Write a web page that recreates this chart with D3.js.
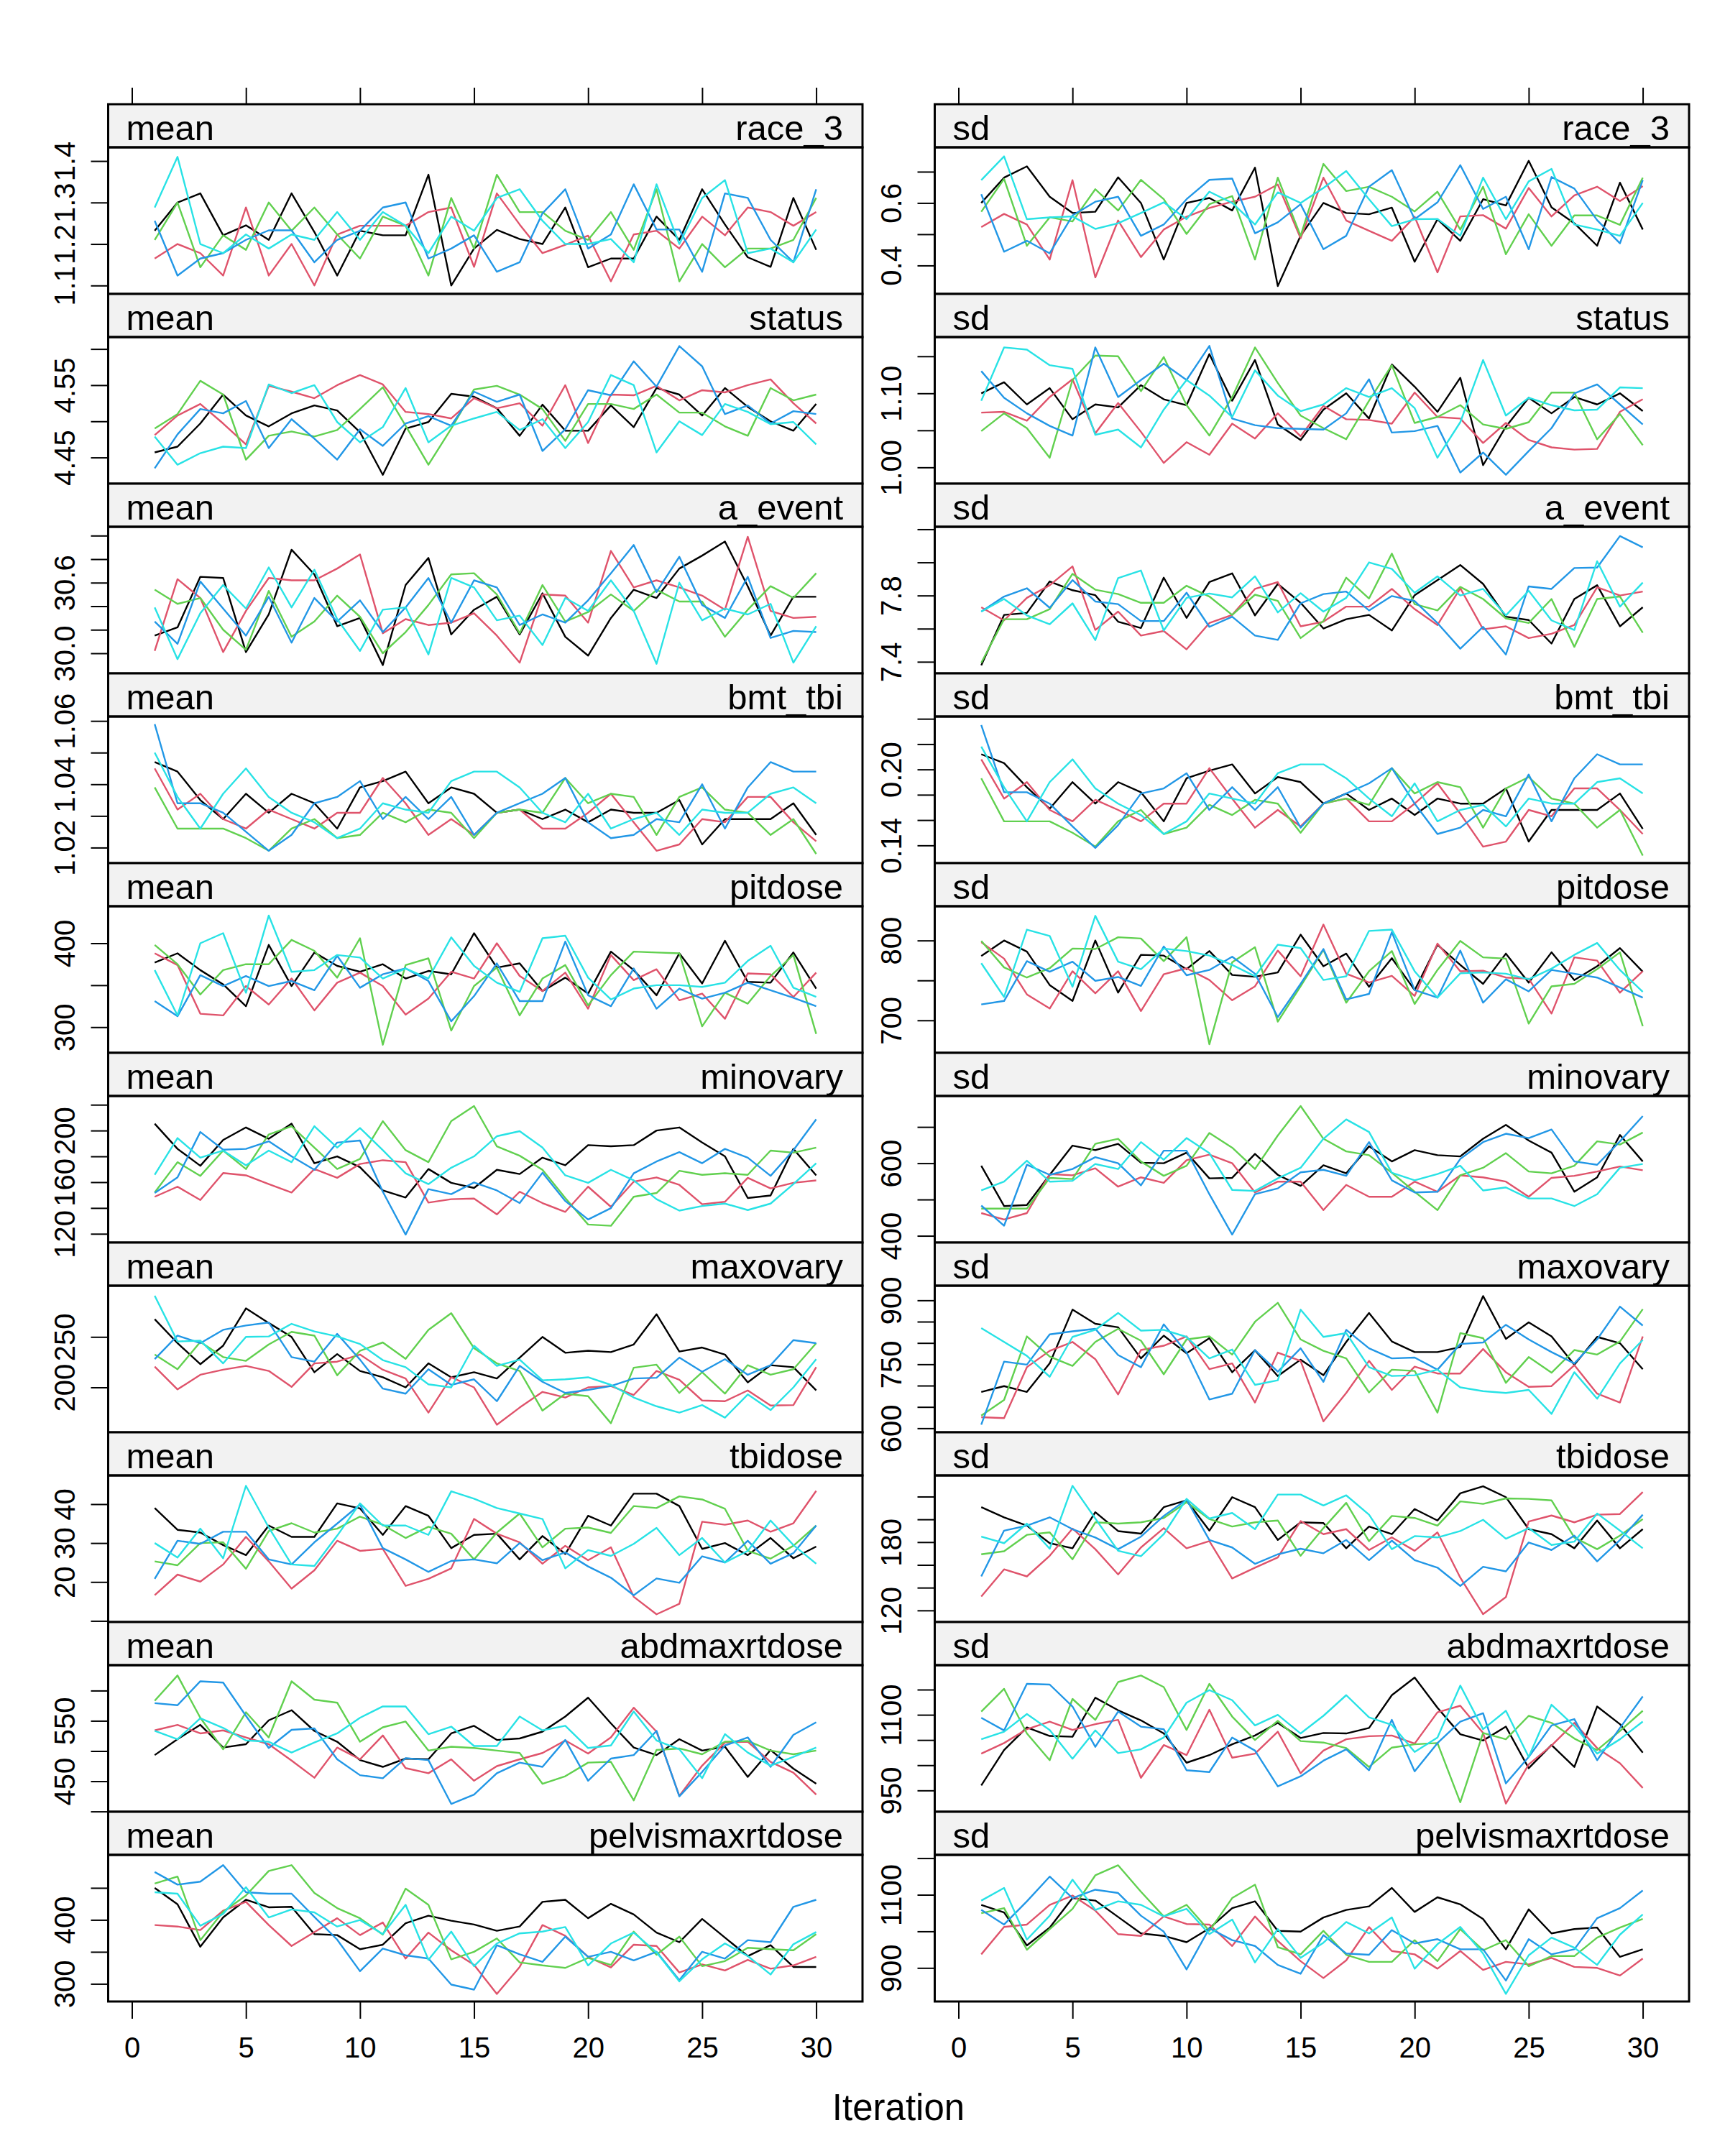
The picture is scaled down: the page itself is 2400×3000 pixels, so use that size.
<!DOCTYPE html>
<html><head><meta charset="utf-8">
<script src="https://cdn.jsdelivr.net/npm/d3@7"></script>
<style>body{margin:0;background:#fff}svg{display:block}text{font-family:"Liberation Sans",Arial,sans-serif}</style>
</head><body>
<script>
// iterations and chain colours
const iterations = d3.range(1, 31);
const chainColors = ["#000000", "#DF536B", "#61D04F", "#2297E6", "#28E2E5"];
const xTickValues = [0, 5, 10, 15, 20, 25, 30];
const variables = ["race_3","status","a_event","bmt_tbi","pitdose","minovary","maxovary","tbidose","abdmaxrtdose","pelvismaxrtdose"];

// ---- series values (5 chains x 30 iterations each) ----
const mean_race_3 = [
[1.232,1.300,1.322,1.221,1.245,1.210,1.322,1.229,1.124,1.232,1.221,1.221,1.367,1.100,1.189,1.234,1.212,1.200,1.288,1.144,1.165,1.165,1.266,1.210,1.332,1.247,1.168,1.145,1.311,1.186],
[1.165,1.200,1.178,1.124,1.288,1.124,1.200,1.100,1.223,1.244,1.244,1.244,1.277,1.288,1.145,1.322,1.247,1.178,1.198,1.220,1.110,1.223,1.232,1.189,1.266,1.221,1.288,1.277,1.244,1.277],
[1.210,1.300,1.144,1.221,1.186,1.300,1.232,1.288,1.223,1.165,1.266,1.244,1.124,1.311,1.189,1.367,1.277,1.277,1.232,1.210,1.277,1.186,1.332,1.110,1.200,1.144,1.189,1.189,1.210,1.311],
[1.256,1.124,1.165,1.178,1.210,1.233,1.233,1.156,1.210,1.232,1.288,1.300,1.165,1.189,1.221,1.133,1.156,1.274,1.332,1.189,1.223,1.344,1.235,1.235,1.133,1.322,1.311,1.210,1.156,1.332],
[1.288,1.410,1.200,1.178,1.223,1.189,1.223,1.210,1.277,1.210,1.277,1.244,1.178,1.266,1.232,1.311,1.332,1.256,1.200,1.200,1.212,1.156,1.344,1.200,1.311,1.354,1.178,1.189,1.156,1.235]];
const sd_race_3 = [
[0.600,0.681,0.717,0.620,0.568,0.572,0.682,0.600,0.419,0.600,0.616,0.576,0.713,0.334,0.495,0.600,0.568,0.564,0.585,0.412,0.548,0.479,0.612,0.592,0.735,0.586,0.535,0.463,0.665,0.515],
[0.523,0.565,0.531,0.419,0.673,0.362,0.544,0.427,0.515,0.556,0.584,0.604,0.620,0.659,0.487,0.681,0.544,0.511,0.479,0.556,0.378,0.557,0.561,0.518,0.648,0.557,0.624,0.652,0.606,0.654],
[0.572,0.677,0.463,0.554,0.541,0.644,0.576,0.674,0.612,0.501,0.596,0.622,0.419,0.681,0.495,0.725,0.638,0.652,0.620,0.573,0.636,0.515,0.652,0.436,0.564,0.463,0.560,0.560,0.530,0.681],
[0.628,0.444,0.479,0.439,0.560,0.604,0.620,0.495,0.531,0.612,0.674,0.678,0.503,0.538,0.596,0.452,0.495,0.652,0.705,0.548,0.602,0.721,0.581,0.620,0.452,0.683,0.646,0.545,0.471,0.673],
[0.673,0.749,0.548,0.554,0.557,0.517,0.535,0.568,0.602,0.548,0.636,0.600,0.531,0.634,0.600,0.648,0.702,0.612,0.526,0.548,0.549,0.495,0.681,0.548,0.669,0.709,0.531,0.515,0.495,0.600]];
const mean_status = [
[4.457,4.465,4.497,4.537,4.508,4.493,4.511,4.522,4.515,4.485,4.426,4.490,4.499,4.538,4.534,4.518,4.480,4.523,4.487,4.487,4.522,4.492,4.546,4.537,4.508,4.546,4.520,4.500,4.487,4.524],
[4.481,4.508,4.524,4.497,4.468,4.549,4.541,4.532,4.550,4.564,4.551,4.513,4.510,4.504,4.532,4.518,4.525,4.494,4.550,4.470,4.537,4.536,4.549,4.529,4.543,4.540,4.550,4.558,4.525,4.497],
[4.490,4.510,4.556,4.537,4.447,4.480,4.486,4.479,4.488,4.517,4.547,4.494,4.440,4.490,4.544,4.549,4.537,4.517,4.473,4.524,4.524,4.517,4.537,4.512,4.512,4.493,4.480,4.546,4.529,4.537],
[4.435,4.482,4.517,4.511,4.528,4.463,4.503,4.476,4.447,4.489,4.466,4.497,4.507,4.494,4.541,4.527,4.537,4.459,4.489,4.543,4.536,4.583,4.548,4.604,4.576,4.510,4.522,4.497,4.514,4.510],
[4.479,4.440,4.456,4.465,4.463,4.551,4.539,4.550,4.499,4.471,4.492,4.546,4.471,4.494,4.504,4.513,4.488,4.503,4.463,4.499,4.564,4.550,4.457,4.500,4.481,4.524,4.513,4.496,4.499,4.468]];
const sd_status = [
[1.100,1.115,1.085,1.107,1.065,1.085,1.081,1.111,1.092,1.084,1.153,1.090,1.145,1.058,1.037,1.078,1.100,1.066,1.139,1.109,1.075,1.121,1.003,1.055,1.094,1.073,1.095,1.085,1.100,1.076],
[1.074,1.075,1.063,1.095,1.119,1.046,1.087,1.048,1.006,1.034,1.017,1.059,1.039,1.073,1.042,1.083,1.065,1.064,1.059,1.101,1.068,1.066,1.033,1.060,1.037,1.027,1.024,1.025,1.075,1.092],
[1.049,1.073,1.053,1.013,1.118,1.151,1.150,1.103,1.149,1.084,1.043,1.095,1.162,1.114,1.070,1.053,1.038,1.090,1.138,1.060,1.068,1.084,1.058,1.052,1.061,1.101,1.101,1.038,1.072,1.030],
[1.130,1.094,1.073,1.056,1.043,1.162,1.095,1.118,1.140,1.118,1.164,1.066,1.057,1.053,1.052,1.051,1.073,1.119,1.047,1.049,1.056,0.993,1.020,0.990,1.022,1.053,1.100,1.112,1.085,1.058],
[1.090,1.162,1.159,1.138,1.133,1.044,1.051,1.027,1.078,1.118,1.097,1.068,1.131,1.097,1.076,1.085,1.107,1.095,1.107,1.080,1.013,1.061,1.145,1.070,1.094,1.084,1.077,1.078,1.108,1.107]];
const mean_a_event = [
[30.15,30.22,30.65,30.64,30.01,30.33,30.88,30.67,30.23,30.30,29.90,30.58,30.81,30.16,30.37,30.48,30.16,30.51,30.14,29.98,30.30,30.54,30.47,30.72,30.83,30.95,30.57,30.15,30.48,30.48],
[30.02,30.63,30.47,30.01,30.36,30.64,30.62,30.62,30.72,30.84,30.17,30.29,30.24,30.26,30.34,30.15,29.92,30.50,30.49,30.26,30.87,30.56,30.62,30.56,30.49,30.37,30.99,30.36,30.30,30.31],
[30.54,30.42,30.47,30.20,30.03,30.53,30.14,30.27,30.49,30.31,30.00,30.18,30.41,30.67,30.68,30.50,30.17,30.58,30.27,30.35,30.50,30.36,30.54,30.44,30.44,30.14,30.37,30.57,30.47,30.68],
[30.27,30.08,30.61,30.38,30.15,30.48,30.09,30.47,30.27,30.45,30.18,30.39,30.64,30.26,30.62,30.56,30.24,30.33,30.26,30.45,30.68,30.92,30.52,30.82,30.41,30.30,30.65,30.13,30.19,30.18],
[30.39,29.95,30.34,30.58,30.38,30.73,30.39,30.71,30.29,30.02,30.37,30.39,29.99,30.64,30.56,30.28,30.32,30.07,30.47,30.36,30.62,30.36,29.91,30.60,30.28,30.38,30.33,30.42,29.92,30.23]];
const sd_a_event = [
[7.379,7.683,7.695,7.885,7.832,7.802,7.642,7.604,7.908,7.665,7.881,7.934,7.680,7.870,7.756,7.601,7.657,7.683,7.589,7.802,7.893,7.984,7.870,7.672,7.652,7.510,7.779,7.862,7.614,7.729],
[7.729,7.650,7.786,7.862,7.976,7.592,7.703,7.558,7.586,7.475,7.634,7.683,7.840,7.881,7.614,7.642,7.733,7.733,7.840,7.718,7.622,7.844,7.596,7.614,7.543,7.569,7.622,7.850,7.800,7.824],
[7.394,7.657,7.657,7.718,7.931,7.835,7.809,7.756,7.756,7.859,7.794,7.683,7.805,7.768,7.543,7.646,7.908,7.782,8.053,7.748,7.710,7.852,7.779,7.662,7.634,7.779,7.490,7.779,7.794,7.576],
[7.703,7.794,7.844,7.726,7.893,7.764,7.748,7.646,7.646,7.817,7.611,7.672,7.558,7.532,7.753,7.809,7.824,7.710,7.797,7.767,7.634,7.479,7.611,7.444,7.855,7.840,7.966,7.969,8.159,8.091],
[7.703,7.779,7.680,7.627,7.753,7.531,7.905,7.951,7.589,7.786,7.812,7.789,7.916,7.698,7.814,7.703,7.786,8.000,7.961,7.817,7.916,7.800,7.840,7.680,7.829,7.650,7.592,8.007,7.733,7.878]];
const mean_bmt_tbi = [
[1.047,1.044,1.035,1.029,1.037,1.031,1.037,1.034,1.026,1.039,1.041,1.044,1.034,1.039,1.037,1.031,1.032,1.029,1.032,1.028,1.032,1.031,1.031,1.035,1.021,1.029,1.029,1.029,1.034,1.024],
[1.045,1.032,1.037,1.029,1.026,1.032,1.029,1.026,1.031,1.031,1.042,1.034,1.024,1.029,1.024,1.031,1.032,1.026,1.026,1.031,1.037,1.028,1.019,1.021,1.029,1.028,1.036,1.036,1.028,1.022],
[1.039,1.026,1.026,1.026,1.023,1.019,1.026,1.029,1.023,1.024,1.031,1.028,1.032,1.031,1.023,1.031,1.032,1.031,1.042,1.034,1.037,1.036,1.024,1.036,1.039,1.032,1.031,1.024,1.029,1.018],
[1.059,1.034,1.034,1.031,1.025,1.019,1.024,1.034,1.036,1.041,1.029,1.036,1.029,1.036,1.024,1.031,1.034,1.037,1.042,1.028,1.023,1.024,1.029,1.028,1.040,1.026,1.039,1.047,1.044,1.044],
[1.050,1.036,1.026,1.037,1.045,1.036,1.031,1.028,1.023,1.026,1.034,1.032,1.031,1.041,1.044,1.044,1.039,1.031,1.028,1.037,1.026,1.029,1.031,1.024,1.032,1.031,1.031,1.037,1.039,1.034]];
const sd_bmt_tbi = [
[0.212,0.205,0.186,0.169,0.190,0.173,0.190,0.182,0.159,0.193,0.199,0.204,0.181,0.194,0.190,0.173,0.181,0.168,0.177,0.164,0.177,0.173,0.173,0.185,0.143,0.168,0.168,0.168,0.181,0.153],
[0.208,0.177,0.190,0.168,0.159,0.176,0.168,0.159,0.173,0.173,0.201,0.177,0.154,0.168,0.155,0.173,0.177,0.159,0.159,0.173,0.189,0.165,0.139,0.143,0.168,0.163,0.185,0.185,0.168,0.149],
[0.193,0.159,0.159,0.159,0.150,0.139,0.159,0.168,0.149,0.154,0.172,0.164,0.176,0.173,0.150,0.173,0.177,0.172,0.201,0.181,0.190,0.186,0.154,0.185,0.194,0.177,0.173,0.154,0.168,0.132],
[0.235,0.182,0.182,0.173,0.155,0.138,0.156,0.181,0.185,0.197,0.168,0.186,0.168,0.186,0.154,0.173,0.181,0.189,0.201,0.173,0.149,0.154,0.168,0.163,0.196,0.159,0.193,0.212,0.204,0.204],
[0.218,0.186,0.159,0.190,0.208,0.185,0.173,0.164,0.149,0.159,0.181,0.177,0.173,0.197,0.204,0.204,0.193,0.177,0.163,0.189,0.159,0.168,0.172,0.155,0.177,0.173,0.173,0.190,0.193,0.181]];
const mean_pitdose = [
[377,388,368,351,325,398,349,389,373,366,375,358,367,363,412,371,376,343,359,340,390,368,338,388,352,403,354,353,389,346],
[388,374,316,314,349,327,358,320,353,365,349,315,334,366,358,400,361,343,365,322,386,356,369,332,340,310,364,363,336,365],
[398,375,339,368,375,375,404,391,359,406,279,374,382,296,349,371,314,358,374,326,362,390,389,388,301,341,328,361,386,292],
[331,313,362,349,361,349,355,344,385,347,363,370,355,307,337,376,331,331,402,338,325,370,322,346,334,341,353,344,335,325],
[368,314,400,412,341,433,366,368,386,383,358,370,358,407,373,353,342,406,409,359,333,346,350,350,348,353,379,397,347,336]];
const sd_pitdose = [
[780.5,800,786.1,744.2,724.3,800,734.7,782,781.1,764.1,786.8,756.8,754.6,760,807.3,767.8,783.6,742,777.9,737.9,794.7,769.4,745.7,783.6,747.3,785.2,750.5,767.8,790.5,760.9],
[797.8,777.3,732.5,714.8,761.5,733.8,761.5,711.7,757.7,765.3,750.5,725.2,742.6,787.4,755.2,819.9,758.4,747.3,755.8,730.6,796.2,761.5,762.2,753.6,752.1,708.5,778.9,774.8,734.7,761.5],
[799.4,766.3,753.6,765.3,789.9,789.3,804.1,802.5,774.1,804.1,670,772.6,791.5,698.4,742.6,788.3,722.1,761.5,786.8,720.5,763.1,799.4,778.9,777.3,695.9,742.6,745.7,764.1,785.2,692.7],
[719.9,724.3,774.1,760.9,773.5,749.5,754.3,743.2,792.4,756.5,763.1,779.6,758.4,704.1,745.7,789.3,726.2,733.1,810.4,737.9,728.4,787.4,722.1,751.4,736.3,763.1,758.4,753.6,741,728.4],
[771.6,729.3,813.6,805.7,742,830.9,773.5,764.1,789.9,786.8,781.1,769.4,755.2,794.7,790.5,750.5,755.2,812,813.6,761.5,728.4,758.9,760,758.4,751.4,764.7,782,796.9,763.1,735.7]];
const mean_minovary = [
[205.3,185.8,172.7,192.7,202.4,193.6,205.3,174.7,180,171.6,153.6,148.1,170.2,159.5,155.5,169.6,166.3,179,173.1,188.7,187.8,188.7,200,202.4,190.7,180,147.7,149.7,185.8,165.3],
[148.7,156.5,146.2,167.1,165.3,158.5,152,170.2,163.4,174.1,177,175.5,144.2,146.8,147.3,135,152.6,143.8,137,156.5,140.9,160.4,163.7,157.9,142.9,144.8,163.4,155.2,159.5,161.4],
[152,175.5,164.9,184.5,170.2,197,203.4,186.8,170.2,178,207.3,184.8,175.5,207.3,219,187.8,180.5,169.6,147.7,127.2,126.2,148.7,151.6,168.8,165.7,166.9,165.7,184.5,182.9,186.8],
[151.6,163.7,198.9,185.2,185.8,191.7,180,169.6,190.7,192.3,152.6,119.4,154.6,150.7,159.8,153.6,143.8,167.3,145.4,131.1,139.9,166.9,176,183.3,174.7,185.8,179,164.9,184.8,208.7],
[165.7,194.2,179,184.5,173.1,184.5,175.5,203.4,186.8,202,184.8,166.9,158.5,171.2,180,195.6,199.5,186.8,165.3,159.5,169.6,161.4,146.8,138,141.5,143.4,138.4,143.4,158.5,174.7]];
const sd_minovary = [
[593,481.9,484.7,568,648.6,636.1,653.5,601.4,600,629.2,558.3,559.7,625.7,568,537.5,594.4,572.2,646.5,604.9,636.1,622.2,618.8,667.4,705.6,662.5,629.2,521.5,561.1,677.8,604.9],
[462.5,445.1,462.5,570.1,566.7,586.1,535.4,561.1,545.8,608.3,623.6,600,519.4,549.3,549.3,470.8,540.3,507.6,507.6,549.3,521.5,566.7,561.1,549.3,507.6,559.7,565.3,577.1,591,580.5],
[475,475,475,559.7,556.3,653.5,667.4,604.9,565.3,593,683.3,643,584,676.4,757.6,667.4,632.6,622.2,573.6,521.5,470.8,566.7,587.5,627.8,577.1,572.2,593,660.4,651.4,684.7],
[483.3,427.8,595.8,568,584,616.7,600,538.9,634.7,634.7,514.6,403.5,514.6,530.6,575,581.9,565.3,658.3,552.8,519.4,521.5,611.8,658.3,681.3,669.4,693,604.9,595.8,660.4,729.8],
[525,549.3,606.9,549.3,551.4,597.9,584,658.3,609.7,669.4,627.8,526.4,523.6,558.3,587.5,667.4,720.8,686.1,573.6,552.8,570.1,593,525,533.3,502.8,502.8,481.9,514.6,587.5,597.9]];
const mean_maxovary = [
[267.5,243.8,223,241.3,278.3,263.8,250,215,233,216.3,210,200,223.8,210,215,208.8,229.5,250,234.3,236.3,235,242.5,272.5,235.5,239.5,232.5,205,222,220,197],
[220.5,198,212.5,217.5,221.3,216.3,200.5,223.8,225.5,232.5,217.5,208.8,175,210,200,163,180,195.5,190,200,201.3,192.5,216.3,207.5,187,186.3,197,182,182.5,220],
[232.5,218,245,230,226.3,242.5,255,251.3,212,236.3,244.5,228.3,257,273.5,238.8,223.8,216.3,177,193.8,191.3,164.5,219.5,222.5,194.5,215,193.8,222,212.5,218,243.8],
[228,251.3,243.8,257,261.3,264.3,230,225.5,253,227.5,198.8,193.8,218,202.5,208,186.3,221.3,205.5,194.5,197.5,201.3,208.8,209.5,229.5,215.5,228,212.5,222,246.8,243.8],
[290.8,245.5,246.3,223.8,250,250.5,263,255.5,250.5,243,227,220,203,200,241.3,221.3,227.5,207,208,210,202.5,190,181.3,175,182.5,170,193,177.5,200,228]];
const sd_maxovary = [
[685.2,698.8,685.2,752.1,878.1,845,836.7,763.9,817.2,775.7,811.2,731.4,782.8,722.5,760.9,724.3,802.4,870.4,803.5,778.7,778.7,790.5,910,809.5,848.5,815.4,749.1,814.2,799.4,738.5],
[626,623.7,743.2,781.6,802.4,762.1,679.3,783.4,793.5,815.4,738.5,752.1,660.4,777.5,758,616,682.8,758,689.9,744.4,728.4,728.4,785.8,731.4,697,698.8,747.9,681.1,660.4,815.4],
[629.6,666.3,815.4,768,746.2,802.4,833.1,805.3,726.6,808.3,815.4,772.8,849.7,894.1,808.3,781.6,763.9,684,737.3,734.3,636.7,823.1,811.2,706.5,766.9,730.2,783.4,772.8,803.5,879.3],
[608.3,756.2,749.1,820.1,827.2,833.1,771.6,743.2,843.8,777.5,667.5,681.1,783.4,732.5,787.5,708.9,830.8,787.5,763.9,765.7,737.3,797.6,801.2,842.6,808.3,778.7,752.1,808.3,885.2,840.8],
[834.9,802.4,769.8,720.7,814.2,830.8,870.4,829,830.8,814.2,763.9,784.6,701.8,712.4,878.1,814.2,823.1,743.2,722.5,724.3,737.3,695.9,687,682.8,689.9,633.7,731.4,669.2,752.1,807.1]];
const mean_tbidose = [
[39,33.4,32.7,29.5,26.9,34.5,31.6,31.6,40.2,38.9,32.1,39.5,37,28.7,32.1,32.4,25.8,31.8,27.2,37,34.5,42.7,42.7,39.5,28.5,30,26.9,31.3,26.1,29.1],
[16.6,21.9,20.1,24.5,31.6,25.3,18.3,23,30.6,28,28.5,19,20.8,23.5,36.2,32.4,30.2,24.7,29.3,25.6,28.9,16.2,11.7,14.4,35.5,34.7,35.8,32.9,35.1,43.4],
[25.3,24.3,30,30.2,23.4,33.1,35.1,32.7,33.7,36.8,34.7,31.3,34.2,32.4,25.8,32.7,37.6,28.9,33.7,34,32.6,39.5,39,42,41.2,38.8,28,26,29.3,34.5],
[20.8,30.6,29.8,32.9,32.9,25.8,24.5,30.2,35,39.9,28.7,25.8,22.6,25.4,25.8,24.8,30,25.6,27.6,24,21.1,16.6,20.9,19.8,26.6,25,30.6,24.7,27.4,34.5],
[30,26.3,33.7,26.1,44.7,34,24.5,24.1,31.9,40.2,34.5,34.5,32.1,43.3,41.4,39,37.6,36.2,23.5,28.2,26.7,29.8,33.9,26.9,31.3,25,28,35.8,29.5,24.7]];
const sd_tbidose = [
[210.7,201.8,194.5,179.1,174.6,206.3,189.7,187.5,210.7,216.7,190.1,219.5,210.7,181.9,197.4,196.8,174.6,193.7,187,209.1,199,222.9,229.1,219.5,191.4,187,174.6,199,174.6,191.4],
[132.2,156.1,149.9,168,191.9,173.8,151.6,175.3,192.3,174.6,180.9,148.1,157.6,166.5,198.5,187,191.4,173.1,184.1,172.4,188.6,148.8,116.7,131.7,198.1,203.4,197.4,204.1,204.7,224],
[169.3,172,186.4,188.6,164.9,197.4,196.3,197.4,201.2,215.1,200.3,193.7,197.4,199,168,192.3,214.5,180.8,203,201.2,194.5,215.8,213.6,218.4,218,216.7,184.1,173.8,185.7,200.3],
[149.9,190.1,194.5,201.8,191.4,184.1,173.8,184.8,203,217.3,181.9,175.3,160.9,169.3,174.2,170.2,181.9,164.2,181.3,164.2,157.6,141.5,158.3,154.3,179.7,173.1,185.7,163.1,181.9,204.1],
[184.8,179.1,196.3,174.2,229.5,200.7,172.4,167.6,187,218,200.7,205.6,191.4,221.8,221.8,212.2,221.1,204.1,173.8,185.3,184.1,189.7,199.6,183,192.3,177.5,180.4,205.2,190.1,174.6]];
const mean_abdmaxrtdose = [
[493.3,519.6,543.3,505.8,511.3,550.8,567.5,533.3,515.4,485,473.8,487.5,486.3,529.2,541.7,518.3,520.8,532.1,557.1,588.3,545.8,505.8,493.3,519.6,500.8,507.1,457.1,501.7,470.8,445.8],
[534.2,543.3,529.2,534.2,522.5,511.3,484.2,455.8,505.8,486.3,525.8,471.7,463.3,486.3,450.8,475,486.3,496.7,517.5,495.8,522.5,571.7,532.1,425.8,475.8,514.2,515.4,482.1,464.2,427.9],
[583.3,625,555,502.9,564.2,522.5,615.4,585,580,515.4,539.2,548.8,500.8,507.1,505,500.8,496.7,445.8,458.3,480.8,482.1,418.3,501.7,504.2,494.6,515.4,516.7,500.8,494.6,500.8],
[579.2,575.8,615.4,613.3,558.3,505,535,537.5,486.3,460,455,488.3,485,412.5,427.9,463.3,480.8,473.8,518.3,450.8,487.5,493.3,533.3,425,465.4,509.2,522.5,473.8,526.7,547.5],
[533.3,519.6,554.2,538.3,517.5,515.4,497.5,514.2,529.2,555,573.8,573.8,527.9,540.4,508.3,508.3,557.1,534.2,541.7,505,509.2,565.4,517.5,502.9,455,527.9,497.5,475.8,490.4,505.8]];
const sd_abdmaxrtdose = [
[960,1030,1075,1058,1056.5,1134,1109,1089,1063,1005,1020,1041.5,1059,1084,1054,1064,1063,1074,1139,1174,1114,1061.5,1049,1076.5,994,1040,996.5,1116.5,1081.5,1025],
[1023,1044,1071.5,1086.5,1070,1081.5,1090,975,1040,1020,1110,1015,1023,1066.5,984,1029,1051.5,1057.5,1059,1043,1105,1118,1064,924,1001.5,1039,1084,1034,1004,955],
[1106.5,1151.5,1063,1010,1131.5,1090,1165,1178,1155,1070,1161.5,1096.5,1050,1088,1048,1045,1034,996.5,1035,1041.5,1044,926.5,1064,1051.5,1098,1084,1053,1030,1068,1108],
[1094,1069,1161.5,1160,1116.5,1036.5,1106.5,1076.5,1071.5,990,986.5,1055,1029,958,978,1009,1031.5,990,1090,988,1044,1086.5,1103,964,1016.5,1079,1091.5,1010,1074,1136.5],
[1051.5,1066.5,1101.5,1070,1013,1069,1024,1031.5,1055,1124,1149,1129,1079,1100,1063,1098,1139,1095,1080,1026.5,1055,1158,1071.5,1108,1016.5,1120,1078,1023,1051.5,1086.5]];
const mean_pelvismaxrtdose = [
[450,424.3,358,403.8,431.4,419.6,420.4,377.7,376.2,354.1,361.2,394.7,406.5,398.7,392.7,382.9,389.6,428.2,431.4,402.6,425.1,408.5,380.1,365.1,401.4,372.2,343.4,360.4,326.4,326.4],
[391.9,389.6,384,414.4,428.2,391.9,359.2,380.9,402.6,376.2,395.9,339.5,380.1,352.5,329.6,284.2,326.4,391.9,375,342.2,325.6,361.2,359.2,317.8,330.4,320.9,337.5,323.7,328.8,342.2],
[456.7,467.7,368.3,412.5,438.1,476.4,485.5,442.1,418.4,402.6,377,448.8,423.5,338.3,350.1,371,333.5,328.8,324.9,340.6,329.6,381.7,345.4,373.8,327.6,335.5,356.4,354.1,352.5,377.7],
[474.8,455.1,459.8,485.5,443.2,440.9,440.9,404.6,369.1,319.7,355.2,344.6,339.5,298.8,290.9,360.4,346.2,334.3,373.8,342.2,350.1,336.7,350.1,305.9,350.1,339.5,368.3,365.1,420.4,431.4],
[443.2,440.9,390.8,409.3,451.1,403.8,416.4,411.7,389.6,399.8,377.7,423.5,337.5,381.7,327.6,363.1,378.9,381.7,388.8,328.8,363.1,380.1,349.3,303.9,338.3,363.1,343.4,314.6,361.9,380.9]];
const sd_pelvismaxrtdose = [
[1072.4,1051.7,961.4,1010.3,1091,1084.1,1039.3,994.5,987.6,970.3,1008.3,1063.5,1082.1,1001.4,999.3,1037.9,1058.6,1068.3,1118.6,1053.1,1093.1,1073.8,1033.8,951,1060,994.5,1006.2,1010.3,930.3,951],
[937.2,1012.2,1018.6,1072.4,1097.9,1056.6,992.4,987.6,1040.7,1020,1018.6,960,1040.7,973.8,918.6,872.4,920.7,1011.7,946.2,937.2,897.9,946.2,894.5,916.6,909.7,927.6,902.8,900,879.3,925.5],
[1049.7,1063.5,949.7,1006.2,1061.4,1153.1,1180.7,1108.3,1040.7,1072.4,1001.4,1091,1127.6,956.6,937.2,1001.4,935.9,916.6,916.6,975.9,918.6,1006.2,948.3,975.9,904.8,932.4,932.4,982.8,1010.3,1033.8],
[1058.6,1018.6,1082.1,1149.7,1091,1113.8,1104.8,1042.8,999.3,895.9,1008.3,975.9,960,908.3,884.1,989.7,939.3,935.9,1003.4,966.9,978.6,951,951,865.5,978.6,937.2,951,1035.9,1063.5,1111.7],
[1084.1,1118.6,977.2,1042.8,1141.4,1058.6,1082.1,1072.4,1040.7,1061.4,992.4,1032.4,915.2,1006.2,927.6,969,1025.5,994.5,1037.9,897.9,964.8,1012.2,939.3,829,934.5,982.8,955.2,908.3,991,1046.2]];

// ---- y axis limits, ticks and labels (per panel, [mean, sd]) ----
const meanLimits = [[1.0797,1.433],[4.4138,4.6165],[29.829,31.075],[1.0151,1.0614],[269.4,444.1],[113.2,226.8],[155.5,300.75],[9.71,47.38],[399.5,642.1],[272.4,501.6]];
const sdLimits   = [[0.309,0.778],[0.978,1.176],[7.330,8.215],[0.126,0.2418],[659.3,842.9],[381.3,785.4],[590.5,934.3],[109.8,238.6],[907.7,1198.5],[808.3,1209]];
const meanTicks = [[1.1,1.2,1.3,1.4],[4.45,4.5,4.55,4.6],[30.0,30.2,30.4,30.6,30.8,31.0],[1.02,1.03,1.04,1.05,1.06],[300,350,400],[120,140,160,180,200,220],[200,250],[10,20,30,40],[400,450,500,550,600],[300,350,400,450]];
const sdTicks = [[0.4,0.5,0.6,0.7],[1.0,1.05,1.1,1.15],[7.4,7.6,7.8,8.0,8.2],[0.14,0.16,0.18,0.20,0.22,0.24],[700,750,800],[400,500,600,700],[600,650,700,750,800,850,900],[120,140,160,180,200,220],[950,1000,1050,1100,1150],[900,1000,1100,1200]];
const meanLabels = [["1.1","1.2","1.3","1.4"],["4.45","4.55"],["30.0","30.6"],["1.02","1.04","1.06"],["300","400"],["120","160","200"],["200","250"],["20","30","40"],["450","550"],["300","400"]];
const sdLabels = [["0.4","0.6"],["1.00","1.10"],["7.4","7.8"],["0.14","0.20"],["700","800"],["400","600"],["600","750","900"],["120","180"],["950","1100"],["900","1100"]];

const meanData = [mean_race_3,mean_status,mean_a_event,mean_bmt_tbi,mean_pitdose,mean_minovary,mean_maxovary,mean_tbidose,mean_abdmaxrtdose,mean_pelvismaxrtdose];
const sdData = [sd_race_3,sd_status,sd_a_event,sd_bmt_tbi,sd_pitdose,sd_minovary,sd_maxovary,sd_tbidose,sd_abdmaxrtdose,sd_pelvismaxrtdose];

// ---- layout ----
const W = 2400, H = 3000;
const cols = [{x0:150.5, x1:1200, stat:"mean", data:meanData, lim:meanLimits, ticks:meanTicks, labels:meanLabels},
              {x0:1300.5, x1:2350, stat:"sd", data:sdData, lim:sdLimits, ticks:sdTicks, labels:sdLabels}];
const top0 = 145, rowH = 264, stripH = 60;
const FONT = '"Liberation Sans", Arial, sans-serif';

const svg = d3.select("body").append("svg").attr("width", W).attr("height", H);
svg.append("rect").attr("width", W).attr("height", H).attr("fill", "#fff");

cols.forEach((c, ci) => {
  const x = d3.scaleLinear().domain([-1.04, 32.03]).range([c.x0, c.x1]);
  variables.forEach((v, ri) => {
    const sTop = top0 + ri * rowH, pTop = sTop + stripH, pBot = sTop + rowH;
    const y = d3.scaleLinear().domain(c.lim[ri]).range([pBot, pTop]);
    const g = svg.append("g");
    // strip
    g.append("rect").attr("x", c.x0).attr("y", sTop).attr("width", c.x1 - c.x0).attr("height", stripH).attr("fill", "#F2F2F2");
    g.append("text").attr("x", c.x0 + 25).attr("y", sTop + 50).attr("font-size", 49).attr("font-family", FONT).text(c.stat);
    g.append("text").attr("x", c.x1 - 27).attr("y", sTop + 50).attr("font-size", 49).attr("font-family", FONT).attr("text-anchor", "end").text(v);
    // clip
    const cid = `clip${ci}_${ri}`;
    svg.append("clipPath").attr("id", cid).append("rect").attr("x", c.x0).attr("y", pTop).attr("width", c.x1 - c.x0).attr("height", pBot - pTop);
    const line = d3.line().x((d, i) => x(iterations[i])).y(d => y(d));
    const lg = g.append("g").attr("clip-path", `url(#${cid})`);
    c.data[ri].forEach((series, k) => {
      lg.append("path").attr("d", line(series)).attr("fill", "none").attr("stroke", chainColors[k]).attr("stroke-width", 2.4).attr("stroke-linejoin", "round");
    });
    // frames
    g.append("rect").attr("x", c.x0).attr("y", sTop).attr("width", c.x1 - c.x0).attr("height", stripH).attr("fill", "none").attr("stroke", "#000").attr("stroke-width", 3);
    g.append("rect").attr("x", c.x0).attr("y", pTop).attr("width", c.x1 - c.x0).attr("height", pBot - pTop).attr("fill", "none").attr("stroke", "#000").attr("stroke-width", 3);
    // y axis
    const ax = d3.axisLeft(y).tickValues(c.ticks[ri]).tickSize(24).tickFormat(d => { const s = c.labels[ri].find(l => Math.abs(+l - d) < 1e-9); return s === undefined ? "" : s; });
    const ag = g.append("g").attr("transform", `translate(${c.x0},0)`).call(ax);
    ag.select(".domain").remove();
    ag.selectAll(".tick line").attr("stroke", "#000").attr("stroke-width", 2);
    ag.selectAll(".tick text").attr("font-size", 40).attr("font-family", FONT).attr("fill", "#000")
      .attr("x", null).attr("dy", null).attr("text-anchor", "middle")
      .attr("transform", "translate(-47,0) rotate(-90)").attr("y", 0);
  });
  // top ticks
  const axT = d3.axisTop(x).tickValues(xTickValues).tickSize(23).tickFormat("");
  const tg = svg.append("g").attr("transform", `translate(0,${top0})`).call(axT);
  tg.select(".domain").remove();
  tg.selectAll(".tick line").attr("stroke", "#000").attr("stroke-width", 2);
  // bottom axis
  const bottom = top0 + variables.length * rowH;
  const axB = d3.axisBottom(x).tickValues(xTickValues).tickSize(24).tickPadding(0).tickFormat(d3.format("d"));
  const bg = svg.append("g").attr("transform", `translate(0,${bottom})`).call(axB);
  bg.select(".domain").remove();
  bg.selectAll(".tick line").attr("stroke", "#000").attr("stroke-width", 2);
  bg.selectAll(".tick text").attr("font-size", 40).attr("font-family", FONT).attr("fill", "#000").attr("dy", null).attr("y", 78);
});

svg.append("text").attr("x", 1250).attr("y", 2950).attr("text-anchor", "middle").attr("font-size", 51).attr("font-family", FONT).text("Iteration");
</script>
</body></html>
